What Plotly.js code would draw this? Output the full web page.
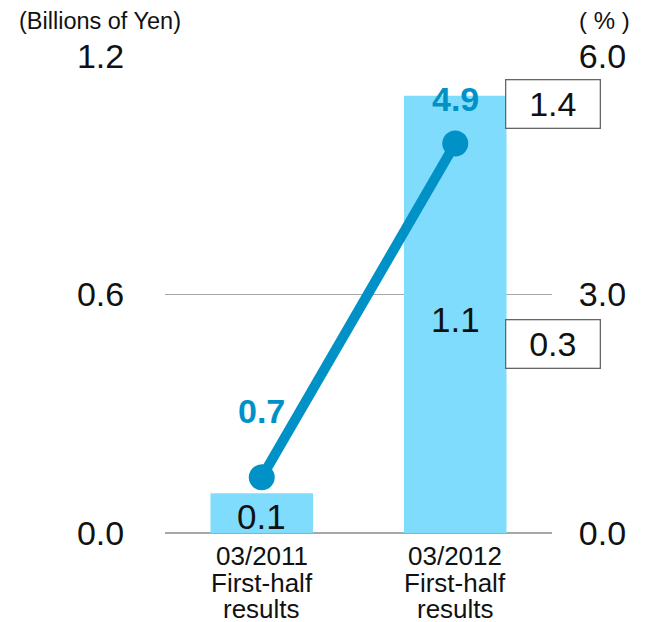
<!DOCTYPE html>
<html>
<head>
<meta charset="utf-8">
<script src="https://cdn.plot.ly/plotly-3.0.1.min.js"></script>
<style>html,body{margin:0;padding:0;background:#fff}#chart{width:649px;height:622px}</style>
</head>
<body>
<div id="chart"></div>
<script>
// ---- data ----
const categories = ["03/2011<br>First-half<br>results", "03/2012<br>First-half<br>results"];
const salesBillions = [0.1, 1.1];          // bars, left axis (Billions of Yen)
const salesLabels = ["0.1", "1.1"];
const ratioPercent = [0.7, 4.9];           // line, right axis (%)
const ratioLabels = ["0.7", "4.9"];
const boxLabels = ["1.4", "0.3"];          // boxed side notes
const leftTicks = [0, 0.6, 1.2];
const leftTickText = ["0.0", "0.6", "1.2"];
const rightTicks = [0, 3, 6];
const rightTickText = ["0.0", "3.0", "6.0"];

const FONT = "Liberation Sans, Arial, Helvetica, sans-serif";
const BAR = "#80DCFC";
const LINE = "#0092C6";

const traces = [
  {
    type: "bar", x: categories, y: salesBillions, yaxis: "y",
    marker: {color: BAR}, hoverinfo: "skip", showlegend: false
  },
  {
    type: "scatter", mode: "lines+markers", x: categories, y: ratioPercent, yaxis: "y2",
    line: {color: LINE, width: 10}, marker: {color: LINE, size: 26},
    hoverinfo: "skip", showlegend: false, cliponaxis: false
  }
];

const annotations = [];
// bar value labels, centred in each bar
categories.forEach((c, i) => {
  annotations.push({x: c, y: salesBillions[i] / 2, xref: "x", yref: "y", text: salesLabels[i],
    showarrow: false, font: {family: FONT, size: 35, color: "#111"}, yshift: i === 0 ? -3 : -5});
});
// line value labels
const lineShift = [66, 44];
categories.forEach((c, i) => {
  annotations.push({x: c, y: ratioPercent[i], xref: "x", yref: "y2", text: "<b>" + ratioLabels[i] + "</b>",
    showarrow: false, font: {family: FONT, size: 34, color: LINE}, yshift: lineShift[i]});
});
// category labels, one annotation per line for the tight line spacing of the original
categories.forEach((c, i) => {
  c.split("<br>").forEach((ln, j) => {
    annotations.push({x: c, y: 0, xref: "x", yref: "paper", text: ln, showarrow: false,
      yanchor: "middle", yshift: -23 - j * 26.5, font: {family: FONT, size: 26, color: "#111"}});
  });
});
// boxed notes
const boxY = [0.899, 0.396];
boxLabels.forEach((t, i) => {
  annotations.push({x: 1.002, y: boxY[i], xref: "paper", yref: "paper", text: t, showarrow: false,
    xanchor: "center", yanchor: "middle", width: 93, height: 47, bgcolor: "#fff",
    bordercolor: "#666", borderwidth: 1.3, borderpad: 0,
    font: {family: FONT, size: 34, color: "#111"}});
});
// axis unit titles
annotations.push({x: -0.383, y: 1.074, xref: "paper", yref: "paper", text: "(Billions of Yen)", showarrow: false,
  xanchor: "left", yanchor: "middle", font: {family: FONT, size: 23.5, color: "#111"}});
annotations.push({x: 1.064, y: 1.074, xref: "paper", yref: "paper", text: "( % )", showarrow: false,
  xanchor: "left", yanchor: "middle", font: {family: FONT, size: 24, color: "#111"}});

const layout = {
  width: 649, height: 622,
  margin: {l: 165, r: 97, t: 56, b: 89, pad: 0},
  paper_bgcolor: "#fff", plot_bgcolor: "#fff",
  bargap: 0.47,
  font: {family: FONT, color: "#111"},
  xaxis: {showticklabels: false, showgrid: false, zeroline: false, showline: false, fixedrange: true},
  yaxis: {
    range: [0, 1.2], tickvals: leftTicks, ticktext: leftTickText,
    showgrid: true, gridcolor: "#A8A8A8", gridwidth: 1,
    zeroline: true, zerolinecolor: "#A8A8A8", zerolinewidth: 2,
    ticks: "outside", ticklen: 33, tickcolor: "rgba(0,0,0,0)",
    tickfont: {family: FONT, size: 34, color: "#111"}, showline: false
  },
  yaxis2: {
    range: [0, 6], tickvals: rightTicks, ticktext: rightTickText,
    overlaying: "y", side: "right", showgrid: false, zeroline: false,
    ticks: "outside", ticklen: 19, tickcolor: "rgba(0,0,0,0)",
    tickfont: {family: FONT, size: 34, color: "#111"}, showline: false
  },
  annotations: annotations,
  showlegend: false
};

Plotly.newPlot("chart", traces, layout, {displayModeBar: false, staticPlot: true});
</script>
</body>
</html>
